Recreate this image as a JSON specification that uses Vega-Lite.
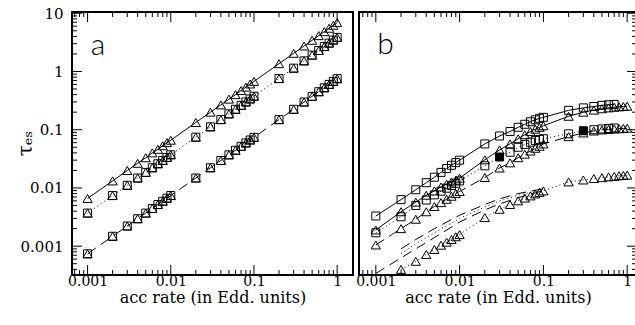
{
  "$schema": "https://vega.github.io/schema/vega-lite/v6.json",
  "padding": {"left": 14, "top": 5, "right": 0, "bottom": 0},
  "spacing": 0,
  "config": {
    "view": {"stroke": "black", "strokeWidth": 2},
    "axis": {
      "domain": false, "grid": false, "ticks": false,
      "labelFont": "DejaVu Serif", "labelFontSize": 14, "labelColor": "black",
      "titleFont": "DejaVu Serif", "titleFontSize": 15, "titleFontWeight": "normal", "titleColor": "black",
      "labelOverlap": false, "labelFlush": false
    },
    "tick": {"thickness": 1, "color": "black", "opacity": 1}
  },
  "datasets": {
    "xt": [
      {"t": 0.0007, "k": "minor"}, {"t": 0.0008, "k": "minor"}, {"t": 0.0009, "k": "minor"}, {"t": 0.001, "k": "major"},
      {"t": 0.002, "k": "minor"}, {"t": 0.003, "k": "minor"}, {"t": 0.004, "k": "minor"}, {"t": 0.005, "k": "minor"},
      {"t": 0.006, "k": "minor"}, {"t": 0.007, "k": "minor"}, {"t": 0.008, "k": "minor"}, {"t": 0.009, "k": "minor"},
      {"t": 0.01, "k": "major"}, {"t": 0.02, "k": "minor"}, {"t": 0.03, "k": "minor"}, {"t": 0.04, "k": "minor"},
      {"t": 0.05, "k": "minor"}, {"t": 0.06, "k": "minor"}, {"t": 0.07, "k": "minor"}, {"t": 0.08, "k": "minor"},
      {"t": 0.09, "k": "minor"}, {"t": 0.1, "k": "major"}, {"t": 0.2, "k": "minor"}, {"t": 0.3, "k": "minor"},
      {"t": 0.4, "k": "minor"}, {"t": 0.5, "k": "minor"}, {"t": 0.6, "k": "minor"}, {"t": 0.7, "k": "minor"},
      {"t": 0.8, "k": "minor"}, {"t": 0.9, "k": "minor"}, {"t": 1, "k": "major"}
    ],
    "yt": [
      {"t": 0.0004, "k": "minor"}, {"t": 0.0005, "k": "minor"}, {"t": 0.0006, "k": "minor"}, {"t": 0.0007, "k": "minor"},
      {"t": 0.0008, "k": "minor"}, {"t": 0.0009, "k": "minor"}, {"t": 0.001, "k": "major"},
      {"t": 0.002, "k": "minor"}, {"t": 0.003, "k": "minor"}, {"t": 0.004, "k": "minor"}, {"t": 0.005, "k": "minor"},
      {"t": 0.006, "k": "minor"}, {"t": 0.007, "k": "minor"}, {"t": 0.008, "k": "minor"}, {"t": 0.009, "k": "minor"},
      {"t": 0.01, "k": "major"}, {"t": 0.02, "k": "minor"}, {"t": 0.03, "k": "minor"}, {"t": 0.04, "k": "minor"},
      {"t": 0.05, "k": "minor"}, {"t": 0.06, "k": "minor"}, {"t": 0.07, "k": "minor"}, {"t": 0.08, "k": "minor"},
      {"t": 0.09, "k": "minor"}, {"t": 0.1, "k": "major"}, {"t": 0.2, "k": "minor"}, {"t": 0.3, "k": "minor"},
      {"t": 0.4, "k": "minor"}, {"t": 0.5, "k": "minor"}, {"t": 0.6, "k": "minor"}, {"t": 0.7, "k": "minor"},
      {"t": 0.8, "k": "minor"}, {"t": 0.9, "k": "minor"}, {"t": 1, "k": "major"}, {"t": 2, "k": "minor"},
      {"t": 3, "k": "minor"}, {"t": 4, "k": "minor"}, {"t": 5, "k": "minor"}, {"t": 6, "k": "minor"},
      {"t": 7, "k": "minor"}, {"t": 8, "k": "minor"}, {"t": 9, "k": "minor"}, {"t": 10, "k": "major"}
    ],
    "a": [
      {"s": "A1", "x": 0.001, "y": 0.0066}, {"s": "A1", "x": 0.002, "y": 0.0132}, {"s": "A1", "x": 0.003, "y": 0.0199},
      {"s": "A1", "x": 0.004, "y": 0.0265}, {"s": "A1", "x": 0.005, "y": 0.033}, {"s": "A1", "x": 0.006, "y": 0.04},
      {"s": "A1", "x": 0.007, "y": 0.046}, {"s": "A1", "x": 0.008, "y": 0.053}, {"s": "A1", "x": 0.009, "y": 0.06},
      {"s": "A1", "x": 0.01, "y": 0.066}, {"s": "A1", "x": 0.02, "y": 0.133}, {"s": "A1", "x": 0.03, "y": 0.2},
      {"s": "A1", "x": 0.04, "y": 0.267}, {"s": "A1", "x": 0.05, "y": 0.335}, {"s": "A1", "x": 0.06, "y": 0.4},
      {"s": "A1", "x": 0.07, "y": 0.47}, {"s": "A1", "x": 0.08, "y": 0.54}, {"s": "A1", "x": 0.09, "y": 0.61},
      {"s": "A1", "x": 0.1, "y": 0.675}, {"s": "A1", "x": 0.2, "y": 1.36}, {"s": "A1", "x": 0.3, "y": 2.05},
      {"s": "A1", "x": 0.4, "y": 2.74}, {"s": "A1", "x": 0.5, "y": 3.43}, {"s": "A1", "x": 0.6, "y": 4.12},
      {"s": "A1", "x": 0.7, "y": 4.82}, {"s": "A1", "x": 0.8, "y": 5.52}, {"s": "A1", "x": 0.9, "y": 6.22},
      {"s": "A1", "x": 1, "y": 6.9},
      {"s": "A2", "x": 0.001, "y": 0.0037}, {"s": "A2", "x": 0.002, "y": 0.0074}, {"s": "A2", "x": 0.003, "y": 0.0111},
      {"s": "A2", "x": 0.004, "y": 0.0148}, {"s": "A2", "x": 0.005, "y": 0.0185}, {"s": "A2", "x": 0.006, "y": 0.0222},
      {"s": "A2", "x": 0.007, "y": 0.026}, {"s": "A2", "x": 0.008, "y": 0.0297}, {"s": "A2", "x": 0.009, "y": 0.0334},
      {"s": "A2", "x": 0.01, "y": 0.0371}, {"s": "A2", "x": 0.02, "y": 0.0745}, {"s": "A2", "x": 0.03, "y": 0.112},
      {"s": "A2", "x": 0.04, "y": 0.149}, {"s": "A2", "x": 0.05, "y": 0.187}, {"s": "A2", "x": 0.06, "y": 0.224},
      {"s": "A2", "x": 0.07, "y": 0.262}, {"s": "A2", "x": 0.08, "y": 0.3}, {"s": "A2", "x": 0.09, "y": 0.338},
      {"s": "A2", "x": 0.1, "y": 0.376}, {"s": "A2", "x": 0.2, "y": 0.755}, {"s": "A2", "x": 0.3, "y": 1.14},
      {"s": "A2", "x": 0.4, "y": 1.52}, {"s": "A2", "x": 0.5, "y": 1.91}, {"s": "A2", "x": 0.6, "y": 2.29},
      {"s": "A2", "x": 0.7, "y": 2.68}, {"s": "A2", "x": 0.8, "y": 3.07}, {"s": "A2", "x": 0.9, "y": 3.46},
      {"s": "A2", "x": 1, "y": 3.85},
      {"s": "A3", "x": 0.001, "y": 0.00074}, {"s": "A3", "x": 0.002, "y": 0.00148}, {"s": "A3", "x": 0.003, "y": 0.00222},
      {"s": "A3", "x": 0.004, "y": 0.00296}, {"s": "A3", "x": 0.005, "y": 0.0037}, {"s": "A3", "x": 0.006, "y": 0.00444},
      {"s": "A3", "x": 0.007, "y": 0.00518}, {"s": "A3", "x": 0.008, "y": 0.00592}, {"s": "A3", "x": 0.009, "y": 0.00666},
      {"s": "A3", "x": 0.01, "y": 0.0074}, {"s": "A3", "x": 0.02, "y": 0.0148}, {"s": "A3", "x": 0.03, "y": 0.0222},
      {"s": "A3", "x": 0.04, "y": 0.0296}, {"s": "A3", "x": 0.05, "y": 0.037}, {"s": "A3", "x": 0.06, "y": 0.0444},
      {"s": "A3", "x": 0.07, "y": 0.0518}, {"s": "A3", "x": 0.08, "y": 0.0592}, {"s": "A3", "x": 0.09, "y": 0.0666},
      {"s": "A3", "x": 0.1, "y": 0.074}, {"s": "A3", "x": 0.2, "y": 0.149}, {"s": "A3", "x": 0.3, "y": 0.224},
      {"s": "A3", "x": 0.4, "y": 0.299}, {"s": "A3", "x": 0.5, "y": 0.374}, {"s": "A3", "x": 0.6, "y": 0.449},
      {"s": "A3", "x": 0.7, "y": 0.525}, {"s": "A3", "x": 0.8, "y": 0.6}, {"s": "A3", "x": 0.9, "y": 0.676},
      {"s": "A3", "x": 1, "y": 0.752}
    ],
    "b": [
      {"s": "B1", "x": 0.001, "y": 0.0033}, {"s": "B1", "x": 0.002, "y": 0.0063}, {"s": "B1", "x": 0.003, "y": 0.0093},
      {"s": "B1", "x": 0.004, "y": 0.0123}, {"s": "B1", "x": 0.005, "y": 0.0153}, {"s": "B1", "x": 0.006, "y": 0.0185},
      {"s": "B1", "x": 0.007, "y": 0.0215}, {"s": "B1", "x": 0.008, "y": 0.0245}, {"s": "B1", "x": 0.009, "y": 0.0272},
      {"s": "B1", "x": 0.01, "y": 0.03}, {"s": "B1", "x": 0.02, "y": 0.057}, {"s": "B1", "x": 0.03, "y": 0.078},
      {"s": "B1", "x": 0.04, "y": 0.093}, {"s": "B1", "x": 0.05, "y": 0.11}, {"s": "B1", "x": 0.06, "y": 0.124},
      {"s": "B1", "x": 0.07, "y": 0.137}, {"s": "B1", "x": 0.08, "y": 0.148}, {"s": "B1", "x": 0.09, "y": 0.157},
      {"s": "B1", "x": 0.1, "y": 0.163}, {"s": "B1", "x": 0.2, "y": 0.215}, {"s": "B1", "x": 0.3, "y": 0.237},
      {"s": "B1", "x": 0.4, "y": 0.25}, {"s": "B1", "x": 0.5, "y": 0.262}, {"s": "B1", "x": 0.6, "y": 0.268},
      {"s": "B1", "x": 0.7, "y": 0.272},
      {"s": "B2", "x": 0.001, "y": 0.0019}, {"s": "B2", "x": 0.002, "y": 0.0039}, {"s": "B2", "x": 0.003, "y": 0.0057},
      {"s": "B2", "x": 0.004, "y": 0.0075}, {"s": "B2", "x": 0.005, "y": 0.0089}, {"s": "B2", "x": 0.006, "y": 0.0104},
      {"s": "B2", "x": 0.007, "y": 0.0116}, {"s": "B2", "x": 0.008, "y": 0.0127}, {"s": "B2", "x": 0.009, "y": 0.0136},
      {"s": "B2", "x": 0.01, "y": 0.0147}, {"s": "B2", "x": 0.02, "y": 0.0304}, {"s": "B2", "x": 0.03, "y": 0.045},
      {"s": "B2", "x": 0.04, "y": 0.057}, {"s": "B2", "x": 0.05, "y": 0.07}, {"s": "B2", "x": 0.06, "y": 0.082},
      {"s": "B2", "x": 0.07, "y": 0.093}, {"s": "B2", "x": 0.08, "y": 0.102}, {"s": "B2", "x": 0.09, "y": 0.11},
      {"s": "B2", "x": 0.1, "y": 0.117}, {"s": "B2", "x": 0.2, "y": 0.17}, {"s": "B2", "x": 0.3, "y": 0.2},
      {"s": "B2", "x": 0.4, "y": 0.217}, {"s": "B2", "x": 0.5, "y": 0.229}, {"s": "B2", "x": 0.6, "y": 0.237},
      {"s": "B2", "x": 0.7, "y": 0.243}, {"s": "B2", "x": 0.8, "y": 0.247}, {"s": "B2", "x": 0.9, "y": 0.25},
      {"s": "B2", "x": 1, "y": 0.253},
      {"s": "B3", "x": 0.001, "y": 0.0017}, {"s": "B3", "x": 0.002, "y": 0.0032}, {"s": "B3", "x": 0.003, "y": 0.005},
      {"s": "B3", "x": 0.004, "y": 0.0062}, {"s": "B3", "x": 0.005, "y": 0.0076}, {"s": "B3", "x": 0.006, "y": 0.0088},
      {"s": "B3", "x": 0.007, "y": 0.0099}, {"s": "B3", "x": 0.008, "y": 0.011}, {"s": "B3", "x": 0.009, "y": 0.012},
      {"s": "B3", "x": 0.01, "y": 0.0132}, {"s": "B3", "x": 0.02, "y": 0.024}, {"s": "B3", "x": 0.03, "y": 0.034},
      {"s": "B3", "x": 0.04, "y": 0.041}, {"s": "B3", "x": 0.05, "y": 0.05}, {"s": "B3", "x": 0.06, "y": 0.056},
      {"s": "B3", "x": 0.07, "y": 0.061}, {"s": "B3", "x": 0.08, "y": 0.065}, {"s": "B3", "x": 0.09, "y": 0.068},
      {"s": "B3", "x": 0.1, "y": 0.07}, {"s": "B3", "x": 0.2, "y": 0.085}, {"s": "B3", "x": 0.3, "y": 0.096},
      {"s": "B3", "x": 0.4, "y": 0.1}, {"s": "B3", "x": 0.5, "y": 0.103}, {"s": "B3", "x": 0.6, "y": 0.105},
      {"s": "B3", "x": 0.7, "y": 0.107},
      {"s": "B4", "x": 0.001, "y": 0.00105}, {"s": "B4", "x": 0.002, "y": 0.002}, {"s": "B4", "x": 0.003, "y": 0.0029},
      {"s": "B4", "x": 0.004, "y": 0.0039}, {"s": "B4", "x": 0.005, "y": 0.0048}, {"s": "B4", "x": 0.006, "y": 0.0056},
      {"s": "B4", "x": 0.007, "y": 0.0064}, {"s": "B4", "x": 0.008, "y": 0.0072}, {"s": "B4", "x": 0.009, "y": 0.008},
      {"s": "B4", "x": 0.01, "y": 0.0087}, {"s": "B4", "x": 0.02, "y": 0.0151}, {"s": "B4", "x": 0.03, "y": 0.022},
      {"s": "B4", "x": 0.04, "y": 0.027}, {"s": "B4", "x": 0.05, "y": 0.033}, {"s": "B4", "x": 0.06, "y": 0.038},
      {"s": "B4", "x": 0.07, "y": 0.043}, {"s": "B4", "x": 0.08, "y": 0.048}, {"s": "B4", "x": 0.09, "y": 0.052},
      {"s": "B4", "x": 0.1, "y": 0.057}, {"s": "B4", "x": 0.2, "y": 0.076}, {"s": "B4", "x": 0.3, "y": 0.088},
      {"s": "B4", "x": 0.4, "y": 0.095}, {"s": "B4", "x": 0.5, "y": 0.099}, {"s": "B4", "x": 0.6, "y": 0.101},
      {"s": "B4", "x": 0.7, "y": 0.103}, {"s": "B4", "x": 0.8, "y": 0.104}, {"s": "B4", "x": 0.9, "y": 0.105},
      {"s": "B4", "x": 1, "y": 0.106},
      {"s": "B5", "x": 0.03, "y": 0.034}, {"s": "B5", "x": 0.3, "y": 0.096},
      {"s": "B6", "x": 0.002, "y": 0.0004}, {"s": "B6", "x": 0.003, "y": 0.00055}, {"s": "B6", "x": 0.004, "y": 0.00072},
      {"s": "B6", "x": 0.005, "y": 0.00088}, {"s": "B6", "x": 0.006, "y": 0.00104}, {"s": "B6", "x": 0.007, "y": 0.00117},
      {"s": "B6", "x": 0.008, "y": 0.0013}, {"s": "B6", "x": 0.009, "y": 0.00145}, {"s": "B6", "x": 0.01, "y": 0.00158},
      {"s": "B6", "x": 0.02, "y": 0.0031}, {"s": "B6", "x": 0.03, "y": 0.0043}, {"s": "B6", "x": 0.04, "y": 0.0052},
      {"s": "B6", "x": 0.05, "y": 0.006}, {"s": "B6", "x": 0.06, "y": 0.0067}, {"s": "B6", "x": 0.07, "y": 0.0073},
      {"s": "B6", "x": 0.08, "y": 0.0079}, {"s": "B6", "x": 0.09, "y": 0.0084}, {"s": "B6", "x": 0.1, "y": 0.0089},
      {"s": "B6", "x": 0.2, "y": 0.0127}, {"s": "B6", "x": 0.3, "y": 0.0137}, {"s": "B6", "x": 0.4, "y": 0.0145},
      {"s": "B6", "x": 0.5, "y": 0.015}, {"s": "B6", "x": 0.6, "y": 0.0155}, {"s": "B6", "x": 0.7, "y": 0.0158},
      {"s": "B6", "x": 0.8, "y": 0.0162}, {"s": "B6", "x": 0.9, "y": 0.0164}, {"s": "B6", "x": 1, "y": 0.0166},
      {"s": "L1", "x": 0.001, "y": 0.00034}, {"s": "L1", "x": 0.002, "y": 0.00063}, {"s": "L1", "x": 0.003, "y": 0.0009},
      {"s": "L1", "x": 0.005, "y": 0.0014}, {"s": "L1", "x": 0.01, "y": 0.0026}, {"s": "L1", "x": 0.02, "y": 0.0042},
      {"s": "L1", "x": 0.03, "y": 0.0053}, {"s": "L1", "x": 0.05, "y": 0.0068}, {"s": "L1", "x": 0.1, "y": 0.009},
      {"s": "L2", "x": 0.002, "y": 0.00075}, {"s": "L2", "x": 0.003, "y": 0.0011}, {"s": "L2", "x": 0.005, "y": 0.0017},
      {"s": "L2", "x": 0.01, "y": 0.003}, {"s": "L2", "x": 0.02, "y": 0.0047}, {"s": "L2", "x": 0.03, "y": 0.006},
      {"s": "L2", "x": 0.05, "y": 0.0075}, {"s": "L2", "x": 0.1, "y": 0.0095},
      {"s": "L3", "x": 0.002, "y": 0.0009}, {"s": "L3", "x": 0.003, "y": 0.0013}, {"s": "L3", "x": 0.005, "y": 0.002},
      {"s": "L3", "x": 0.01, "y": 0.0034}, {"s": "L3", "x": 0.02, "y": 0.0052}, {"s": "L3", "x": 0.03, "y": 0.0065},
      {"s": "L3", "x": 0.05, "y": 0.008}, {"s": "L3", "x": 0.1, "y": 0.0097}
    ]
  },
  "hconcat": [
    {
      "width": 281,
      "height": 263,
      "layer": [
        {
          "data": {"name": "a"},
          "transform": [{"filter": "datum.s === 'A1'"}],
          "mark": {"type": "line", "color": "black", "strokeWidth": 1, "clip": true},
          "encoding": {
            "x": {
              "field": "x", "type": "quantitative",
              "scale": {"type": "log", "domain": [0.00065, 1.55], "nice": false},
              "axis": {
                "orient": "bottom",
                "values": [0.001, 0.01, 0.1, 1],
                "format": "~g",
                "labelPadding": -1,
                "title": "acc rate (in Edd. units)",
                "titleFontSize": 16,
                "titlePadding": 1
              }
            },
            "y": {
              "field": "y", "type": "quantitative",
              "scale": {"type": "log", "domain": [0.00032, 10.5], "nice": false},
              "axis": {
                "orient": "left",
                "values": [0.001, 0.01, 0.1, 1, 10],
                "format": "~g",
                "labelPadding": 9,
                "labelFontSize": 15,
                "title": "τₑₛ",
                "titleFontSize": 20,
                "titleX": -47,
                "titleY": 131,
                "titleAlign": "center",
                "titleBaseline": "middle"
              }
            }
          }
        },
        {
          "data": {"name": "a"},
          "transform": [{"filter": "datum.s !== 'A1'"}],
          "mark": {"type": "line", "color": "black", "strokeWidth": 1, "clip": true},
          "encoding": {
            "x": {"field": "x", "type": "quantitative"},
            "y": {"field": "y", "type": "quantitative"},
            "detail": {"field": "s"},
            "strokeDash": {
              "field": "s", "type": "nominal",
              "scale": {"domain": ["A2", "A3"], "range": [[1, 3], [10, 6]]},
              "legend": null
            }
          }
        },
        {
          "data": {"name": "a"},
          "transform": [{"filter": "datum.s !== 'A1'"}],
          "mark": {"type": "point", "shape": "square", "filled": false, "color": "black", "size": 64, "strokeWidth": 1, "opacity": 1},
          "encoding": {
            "x": {"field": "x", "type": "quantitative"},
            "y": {"field": "y", "type": "quantitative"}
          }
        },
        {
          "data": {"name": "a"},
          "mark": {"type": "point", "shape": "triangle-up", "filled": false, "color": "black", "size": 85, "strokeWidth": 1, "opacity": 1},
          "encoding": {
            "x": {"field": "x", "type": "quantitative"},
            "y": {"field": "y", "type": "quantitative"}
          }
        },
        {
          "data": {"name": "xt"},
          "mark": {"type": "tick", "orient": "vertical", "clip": true},
          "encoding": {
            "x": {"field": "t", "type": "quantitative"},
            "y": {"datum": 0.00032, "type": "quantitative"},
            "size": {"field": "k", "type": "ordinal", "scale": {"domain": ["major", "minor"], "range": [20, 10]}, "legend": null}
          }
        },
        {
          "data": {"name": "xt"},
          "mark": {"type": "tick", "orient": "vertical", "clip": true},
          "encoding": {
            "x": {"field": "t", "type": "quantitative"},
            "y": {"datum": 10.5, "type": "quantitative"},
            "size": {"field": "k", "type": "ordinal", "scale": {"domain": ["major", "minor"], "range": [20, 10]}, "legend": null}
          }
        },
        {
          "data": {"name": "yt"},
          "mark": {"type": "tick", "orient": "horizontal", "clip": true},
          "encoding": {
            "x": {"datum": 0.00065, "type": "quantitative"},
            "y": {"field": "t", "type": "quantitative"},
            "size": {"field": "k", "type": "ordinal", "scale": {"domain": ["major", "minor"], "range": [20, 10]}, "legend": null}
          }
        },
        {
          "data": {"values": [{"panel": "a"}]},
          "mark": {"type": "text", "font": "Lato", "fontWeight": 300, "fontSize": 30, "align": "center", "baseline": "alphabetic", "color": "black"},
          "encoding": {
            "x": {"datum": 0.00134, "type": "quantitative"},
            "y": {"datum": 1.95, "type": "quantitative"},
            "text": {"field": "panel"}
          }
        }
      ]
    },
    {
      "width": 278,
      "height": 263,
      "layer": [
        {
          "data": {"name": "b"},
          "transform": [{"filter": "datum.s === 'B1' || datum.s === 'B2'"}],
          "mark": {"type": "line", "color": "black", "strokeWidth": 1, "clip": true},
          "encoding": {
            "x": {
              "field": "x", "type": "quantitative",
              "scale": {"type": "log", "domain": [0.00063, 1.31], "nice": false},
              "axis": {
                "orient": "bottom",
                "values": [0.001, 0.01, 0.1, 1],
                "format": "~g",
                "labelPadding": -1,
                "title": "acc rate (in Edd. units)",
                "titleFontSize": 16,
                "titlePadding": 1
              }
            },
            "y": {
              "field": "y", "type": "quantitative",
              "scale": {"type": "log", "domain": [0.00032, 10.5], "nice": false},
              "axis": null
            },
            "detail": {"field": "s"}
          }
        },
        {
          "data": {"name": "b"},
          "transform": [{"filter": "datum.s !== 'B1' && datum.s !== 'B2' && datum.s !== 'B5'"}],
          "mark": {"type": "line", "color": "black", "strokeWidth": 1, "clip": true},
          "encoding": {
            "x": {"field": "x", "type": "quantitative"},
            "y": {"field": "y", "type": "quantitative"},
            "detail": {"field": "s"},
            "strokeDash": {
              "field": "s", "type": "nominal",
              "scale": {"domain": ["B3", "B4", "B6", "L1", "L2", "L3"], "range": [[1, 3], [1, 3], [10, 6], [6, 3, 1, 3], [1, 3], [2, 3]]},
              "legend": null
            }
          }
        },
        {
          "data": {"name": "b"},
          "transform": [{"filter": "datum.s === 'B1' || datum.s === 'B3'"}],
          "mark": {"type": "point", "shape": "square", "filled": false, "color": "black", "size": 64, "strokeWidth": 1, "opacity": 1},
          "encoding": {
            "x": {"field": "x", "type": "quantitative"},
            "y": {"field": "y", "type": "quantitative"}
          }
        },
        {
          "data": {"name": "b"},
          "transform": [{"filter": "datum.s === 'B2' || datum.s === 'B4' || datum.s === 'B6'"}],
          "mark": {"type": "point", "shape": "triangle-up", "filled": false, "color": "black", "size": 85, "strokeWidth": 1, "opacity": 1},
          "encoding": {
            "x": {"field": "x", "type": "quantitative"},
            "y": {"field": "y", "type": "quantitative"}
          }
        },
        {
          "data": {"name": "b"},
          "transform": [{"filter": "datum.s === 'B5'"}],
          "mark": {"type": "point", "shape": "square", "filled": true, "color": "black", "size": 64, "opacity": 1},
          "encoding": {
            "x": {"field": "x", "type": "quantitative"},
            "y": {"field": "y", "type": "quantitative"}
          }
        },
        {
          "data": {"name": "xt"},
          "mark": {"type": "tick", "orient": "vertical", "clip": true},
          "encoding": {
            "x": {"field": "t", "type": "quantitative"},
            "y": {"datum": 0.00032, "type": "quantitative"},
            "size": {"field": "k", "type": "ordinal", "scale": {"domain": ["major", "minor"], "range": [20, 10]}, "legend": null}
          }
        },
        {
          "data": {"name": "xt"},
          "mark": {"type": "tick", "orient": "vertical", "clip": true},
          "encoding": {
            "x": {"field": "t", "type": "quantitative"},
            "y": {"datum": 10.5, "type": "quantitative"},
            "size": {"field": "k", "type": "ordinal", "scale": {"domain": ["major", "minor"], "range": [20, 10]}, "legend": null}
          }
        },
        {
          "data": {"name": "yt"},
          "mark": {"type": "tick", "orient": "horizontal", "clip": true},
          "encoding": {
            "x": {"datum": 1.31, "type": "quantitative"},
            "y": {"field": "t", "type": "quantitative"},
            "size": {"field": "k", "type": "ordinal", "scale": {"domain": ["major", "minor"], "range": [20, 10]}, "legend": null}
          }
        },
        {
          "data": {"values": [{"panel": "b"}]},
          "mark": {"type": "text", "font": "Lato", "fontWeight": 300, "fontSize": 30, "align": "center", "baseline": "alphabetic", "color": "black"},
          "encoding": {
            "x": {"datum": 0.00131, "type": "quantitative"},
            "y": {"datum": 2.0, "type": "quantitative"},
            "text": {"field": "panel"}
          }
        }
      ]
    }
  ]
}
